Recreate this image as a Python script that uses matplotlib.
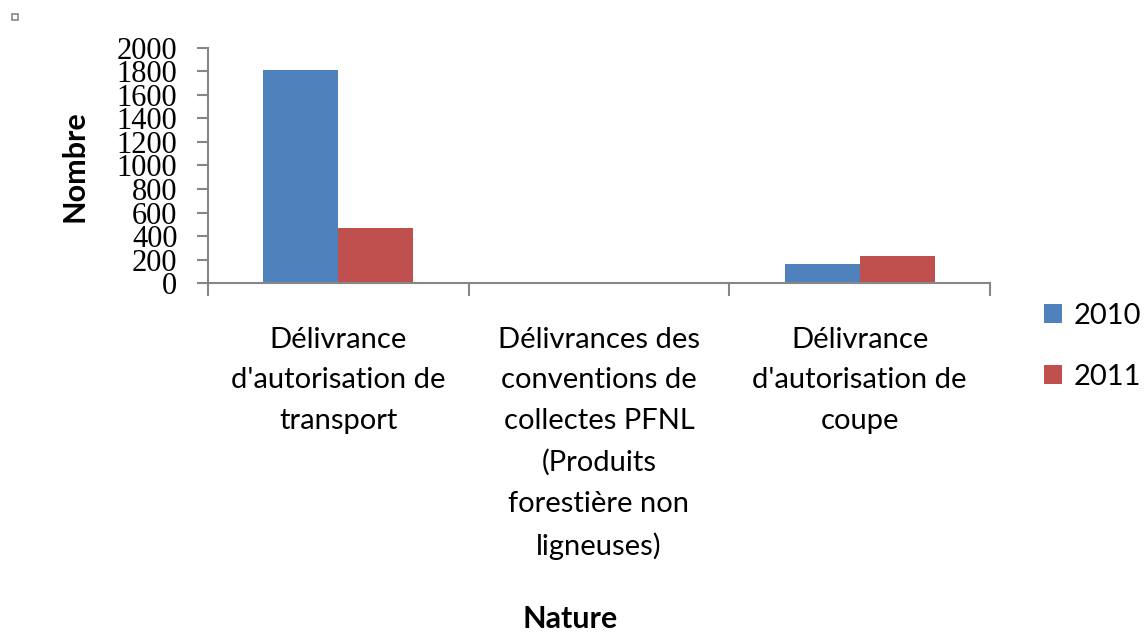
import numpy as np
import matplotlib.pyplot as plt
from matplotlib.patches import Rectangle

categories = [
    "Délivrance\nd'autorisation de\ntransport",
    "Délivrances des\nconventions de\ncollectes PFNL\n(Produits\nforestière non\nligneuses)",
    "Délivrance\nd'autorisation de\ncoupe",
]
years = ["2010", "2011"]
values_2010 = [1810, 0, 162]
values_2011 = [470, 0, 230]
y_ticks = [0, 200, 400, 600, 800, 1000, 1200, 1400, 1600, 1800, 2000]

blue = "#4f81bd"
red = "#c0504d"
grey = "#868686"
label_font = "Lato"

fig = plt.figure(figsize=(11.44, 6.37), dpi=100)
ax = fig.add_axes([0.1818, 0.5557, 0.6836, 0.369])

x = np.arange(len(categories))
w = 0.288
ax.bar(x - w / 2, values_2010, w, color=blue, label=years[0])
ax.bar(x + w / 2, values_2011, w, color=red, label=years[1])

ax.set_xlim(-0.5, 2.5)
ax.set_ylim(0, 2000)
ax.set_yticks(y_ticks)
ax.set_yticklabels([str(t) for t in y_ticks], family="Liberation Serif", fontsize=22)
ax.tick_params(axis="y", length=8, width=1.5, color=grey, pad=14)

# category boundaries carry the x tick marks, labels sit under the groups
ax.set_xticks([-0.5, 0.5, 1.5, 2.5])
ax.set_xticklabels([])
ax.tick_params(axis="x", length=9, width=1.5, color=grey)
for i, cat in enumerate(categories):
    ax.text(i, -0.185, cat, ha="center", va="top", fontsize=21,
            family=label_font, linespacing=1.7,
            transform=ax.get_xaxis_transform(), clip_on=False)

for side in ["top", "right"]:
    ax.spines[side].set_visible(False)
for side in ["left", "bottom"]:
    ax.spines[side].set_color(grey)
    ax.spines[side].set_linewidth(1.5)

fig.text(0.0647, 0.739, "Nombre", rotation=90, ha="center", va="center",
         fontsize=22, fontweight="bold", family=label_font)
fig.text(0.498, 0.006, "Nature", ha="center", va="bottom",
         fontsize=22, fontweight="bold", family=label_font)

leg = fig.legend(loc="upper left", bbox_to_anchor=(0.9126, 0.525), frameon=False,
                 prop={"family": label_font, "size": 21}, handlelength=0.6,
                 handleheight=0.65, handletextpad=0.4, labelspacing=1.2,
                 borderpad=0, borderaxespad=0)

# small marker square in the top-left corner
fig.patches.append(Rectangle((0.0105, 0.9686), 0.0052, 0.0094, transform=fig.transFigure,
                             fill=False, edgecolor="#888888", linewidth=1.2))

fig.savefig("out.png", dpi=100)
